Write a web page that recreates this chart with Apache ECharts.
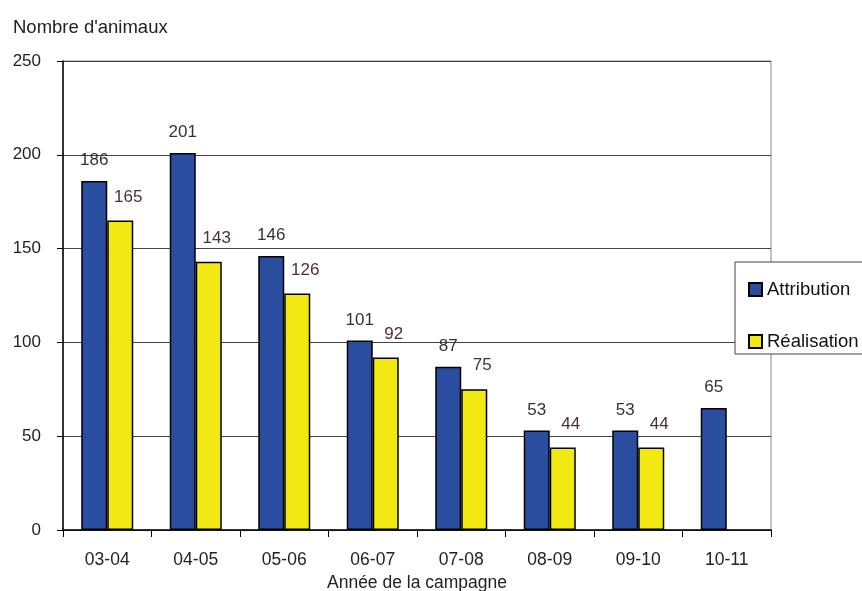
<!DOCTYPE html>
<html><head><meta charset="utf-8">
<script src="https://cdn.jsdelivr.net/npm/echarts@6/dist/echarts.min.js"></script>
<style>html,body{margin:0;padding:0;background:#fff}#c{width:862px;height:591px}</style>
</head><body><div id="c"></div>
<script>
var categories = ['03-04','04-05','05-06','06-07','07-08','08-09','09-10','10-11'];
var attribution = [186, 201, 146, 101, 87, 53, 53, 65];
var realisation = [165, 143, 126, 92, 75, 44, 44, null];
var yTicks = [0, 50, 100, 150, 200, 250];

var chart = echarts.init(document.getElementById('c'));
var font = 'Liberation Sans, Arial, sans-serif';
chart.setOption({
  animation: false,
  textStyle: {fontFamily: font},
  title: {text: "Nombre d'animaux", left: 8, top: 13,
    textStyle: {fontSize: 18.5, fontWeight: 'normal', color: '#222', fontFamily: font}},
  grid: {left: 63, right: 91, top: 61, bottom: 61, show: true, borderColor: '#888', borderWidth: 1,
    containLabel: false, outerBoundsMode: 'none'},
  legend: {
    orient: 'vertical', left: 735, top: 262,
    padding: [18, 12, 3, 13], itemGap: 33,
    itemWidth: 13, itemHeight: 13,
    borderColor: '#444', borderWidth: 1, backgroundColor: '#fff',
    textStyle: {fontSize: 18.5, color: '#111', fontFamily: font, padding: [0,0,0,0]},
    data: [{name: 'Attribution', icon: 'rect'}, {name: 'Réalisation', icon: 'rect'}]
  },
  xAxis: {
    type: 'category', data: categories,
    name: 'Année de la campagne', nameLocation: 'middle', nameGap: 43,
    nameTextStyle: {fontSize: 17.5, color: '#222'},
    axisLine: {lineStyle: {color: '#000', width: 1.5}},
    axisTick: {show: true, length: 7, lineStyle: {color: '#000'}},
    axisLabel: {fontSize: 17.5, color: '#222', margin: 21}
  },
  yAxis: {
    type: 'value', min: yTicks[0], max: yTicks[yTicks.length-1], interval: 50,
    axisLine: {show: true, lineStyle: {color: '#000', width: 1.5}},
    axisTick: {show: true, length: 6, lineStyle: {color: '#000'}},
    axisLabel: {fontSize: 17, color: '#222', margin: 22},
    splitLine: {lineStyle: {color: '#444', width: 1}}
  },
  series: [
    {name: 'Attribution', type: 'bar', data: attribution, barWidth: 26, barGap: '0%',
      itemStyle: {color: '#2a4d9f', borderColor: '#000', borderWidth: 1.5},
      label: {show: true, position: 'top', distance: 12, fontSize: 17, color: '#333', fontFamily: font}},
    {name: 'Réalisation', type: 'bar', data: realisation, barWidth: 26,
      itemStyle: {color: '#f2e912', borderColor: '#000', borderWidth: 1.5},
      label: {show: true, position: 'top', distance: 15, offset: [8, 0], fontSize: 17, color: '#4a3038', fontFamily: font}}
  ]
});
</script></body></html>
